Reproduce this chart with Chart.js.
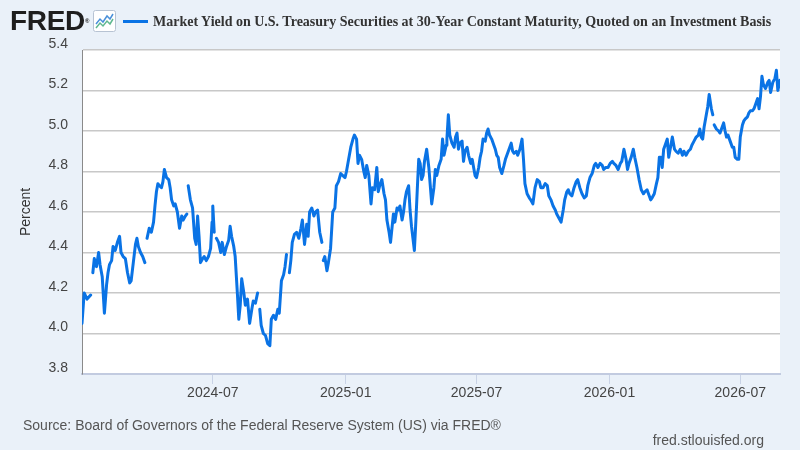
<!DOCTYPE html>
<html>
<head>
<meta charset="utf-8">
<script src="https://cdn.jsdelivr.net/npm/chart.js@4.4.1/dist/chart.umd.min.js"></script>
<style>
html,body{margin:0;padding:0;background:#eaf1f9;}
#wrap{position:relative;width:800px;height:450px;overflow:hidden;font-family:"Liberation Sans",Arial,sans-serif;}
#c{position:absolute;left:0;top:0;}
#logo{position:absolute;left:10px;top:7px;font:bold 28px/28px "Liberation Sans",Arial,sans-serif;color:#1e1e1e;letter-spacing:-0.3px;}
#logo sup{font-size:6px;vertical-align:bottom;letter-spacing:0;}
#icon{position:absolute;left:93px;top:10px;}
#legline{position:absolute;left:123px;top:20px;width:25px;height:3px;background:#0a73e5;}
#title{position:absolute;left:153px;top:14px;font:bold 14px/16px "Liberation Serif","Times New Roman",serif;color:#333;white-space:nowrap;}
#src{position:absolute;left:23px;top:417px;font:14px/16px "Liberation Sans",Arial,sans-serif;color:#555;white-space:nowrap;}
#site{position:absolute;right:36px;top:432px;font:14px/16px "Liberation Sans",Arial,sans-serif;color:#555;white-space:nowrap;}
</style>
</head>
<body>
<div id="wrap">
<canvas id="c" width="800" height="450"></canvas>
<div id="logo">FRED<sup>®</sup></div>
<svg id="icon" width="23" height="22" viewBox="0 0 23 22"><rect x="0.5" y="0.5" width="22" height="21" rx="2" fill="#fff" stroke="#b7c3d3"/><polyline points="3,14 7,9 10,12 14,6 17,9 20,4" fill="none" stroke="#4a90d9" stroke-width="1.5"/><polyline points="3,18 7,13 10,16 14,11 17,14 20,9" fill="none" stroke="#5fb88f" stroke-width="1.5"/></svg>
<div id="legline"></div>
<div id="title">Market Yield on U.S. Treasury Securities at 30-Year Constant Maturity, Quoted on an Investment Basis</div>
<div id="src">Source: Board of Governors of the Federal Reserve System (US) via FRED®</div>
<div id="site">fred.stlouisfed.org</div>
</div>
<script>
// ---- data (null = missing observation, line break) ----
const dates = [
'2024-01-02','2024-01-05','2024-01-09','2024-01-14','2024-01-16',
'2024-01-17','2024-01-19','2024-01-22','2024-01-25','2024-01-27','2024-01-30','2024-02-02','2024-02-05','2024-02-07','2024-02-09',
'2024-02-12','2024-02-14','2024-02-17','2024-02-20','2024-02-23','2024-02-25','2024-02-28','2024-03-02','2024-03-05','2024-03-08',
'2024-03-10','2024-03-13','2024-03-16','2024-03-18','2024-03-20','2024-03-23','2024-03-26','2024-03-29','2024-03-30',
'2024-04-01','2024-04-04','2024-04-07','2024-04-10','2024-04-12','2024-04-14','2024-04-16','2024-04-18','2024-04-21','2024-04-23',
'2024-04-25','2024-04-28','2024-05-01','2024-05-03','2024-05-05','2024-05-08','2024-05-10','2024-05-13','2024-05-16','2024-05-19',
'2024-05-21','2024-05-24','2024-05-26','2024-05-27',
'2024-05-28','2024-05-31','2024-06-03','2024-06-06','2024-06-08','2024-06-10','2024-06-12','2024-06-14','2024-06-17','2024-06-19',
'2024-06-22','2024-06-25','2024-06-28','2024-06-30','2024-07-01','2024-07-03','2024-07-05',
'2024-07-06','2024-07-09','2024-07-12','2024-07-14','2024-07-17','2024-07-20','2024-07-23','2024-07-25','2024-07-27','2024-07-30',
'2024-08-01','2024-08-04','2024-08-06','2024-08-08','2024-08-10','2024-08-13','2024-08-15','2024-08-18','2024-08-21','2024-08-24',
'2024-08-26','2024-08-29','2024-09-01','2024-09-02',
'2024-09-04','2024-09-06','2024-09-09','2024-09-12','2024-09-15','2024-09-18','2024-09-20','2024-09-23','2024-09-26','2024-09-29',
'2024-10-01','2024-10-04','2024-10-07','2024-10-09','2024-10-11','2024-10-13',
'2024-10-15','2024-10-17','2024-10-19','2024-10-22','2024-10-25','2024-10-28','2024-10-31','2024-11-02','2024-11-05','2024-11-08',
'2024-11-10','2024-11-12','2024-11-15','2024-11-18','2024-11-20','2024-11-23','2024-11-26','2024-11-29','2024-11-30',
'2024-12-01','2024-12-03','2024-12-06','2024-12-08','2024-12-11','2024-12-14','2024-12-17','2024-12-19','2024-12-22','2024-12-25',
'2024-12-28','2024-12-31','2025-01-02','2025-01-05','2025-01-08','2025-01-11','2025-01-13','2025-01-16','2025-01-18','2025-01-20',
'2025-01-23','2025-01-26','2025-01-28','2025-01-30','2025-02-02','2025-02-05','2025-02-07','2025-02-10','2025-02-13','2025-02-15',
'2025-02-17','2025-02-20','2025-02-23','2025-02-25','2025-02-27','2025-03-02','2025-03-04','2025-03-06','2025-03-08','2025-03-10',
'2025-03-13','2025-03-15','2025-03-17','2025-03-20','2025-03-22','2025-03-24','2025-03-26','2025-03-29','2025-03-31','2025-04-02',
'2025-04-04','2025-04-06','2025-04-08','2025-04-10','2025-04-12','2025-04-14','2025-04-16','2025-04-18','2025-04-20','2025-04-23',
'2025-04-26','2025-04-28','2025-04-30','2025-05-03','2025-05-05','2025-05-07','2025-05-10','2025-05-13','2025-05-15','2025-05-17',
'2025-05-20','2025-05-21','2025-05-23','2025-05-25','2025-05-28','2025-05-31','2025-06-02','2025-06-04','2025-06-06','2025-06-08',
'2025-06-11','2025-06-13','2025-06-15','2025-06-18','2025-06-20','2025-06-23','2025-06-25','2025-06-27','2025-06-29','2025-07-01',
'2025-07-04','2025-07-06','2025-07-08','2025-07-10','2025-07-13','2025-07-15','2025-07-17','2025-07-19','2025-07-22','2025-07-25',
'2025-07-27','2025-07-29','2025-07-31','2025-08-02','2025-08-05','2025-08-08','2025-08-10','2025-08-12','2025-08-15','2025-08-18',
'2025-08-20','2025-08-22','2025-08-25','2025-08-27','2025-08-30','2025-09-02','2025-09-04','2025-09-06','2025-09-09','2025-09-12',
'2025-09-14','2025-09-17','2025-09-20','2025-09-23','2025-09-26','2025-09-28','2025-10-01','2025-10-04','2025-10-07','2025-10-09',
'2025-10-12','2025-10-15','2025-10-18','2025-10-20','2025-10-23','2025-10-26','2025-10-29','2025-10-31','2025-11-03','2025-11-05',
'2025-11-07','2025-11-10','2025-11-13','2025-11-16','2025-11-18','2025-11-21','2025-11-24','2025-11-27','2025-11-30','2025-12-02',
'2025-12-05','2025-12-08','2025-12-11','2025-12-13','2025-12-16','2025-12-19','2025-12-22','2025-12-24','2025-12-27','2025-12-30',
'2026-01-02','2026-01-05','2026-01-07','2026-01-10','2026-01-13','2026-01-16','2026-01-18','2026-01-21','2026-01-24','2026-01-26',
'2026-01-28','2026-01-31','2026-02-03','2026-02-05','2026-02-08','2026-02-11','2026-02-14','2026-02-17','2026-02-19','2026-02-22',
'2026-02-25','2026-02-27','2026-03-01','2026-03-04','2026-03-07','2026-03-09','2026-03-11','2026-03-13','2026-03-15','2026-03-17',
'2026-03-19','2026-03-22','2026-03-24','2026-03-26','2026-03-29','2026-04-01','2026-04-03','2026-04-06','2026-04-09','2026-04-12',
'2026-04-14','2026-04-17','2026-04-20','2026-04-23','2026-04-25','2026-04-28','2026-05-01','2026-05-04','2026-05-06','2026-05-08',
'2026-05-10','2026-05-12','2026-05-15','2026-05-17','2026-05-19','2026-05-22','2026-05-24','2026-05-25',
'2026-05-26','2026-05-29','2026-06-01','2026-06-03','2026-06-06','2026-06-08','2026-06-10','2026-06-12','2026-06-14','2026-06-17',
'2026-06-20','2026-06-22','2026-06-24','2026-06-27','2026-06-29','2026-07-01','2026-07-04','2026-07-06','2026-07-08','2026-07-11',
'2026-07-13','2026-07-15','2026-07-18','2026-07-20','2026-07-22','2026-07-25','2026-07-27','2026-07-29','2026-07-31','2026-08-02',
'2026-08-05','2026-08-08','2026-08-10','2026-08-12','2026-08-15','2026-08-18','2026-08-20','2026-08-22','2026-08-25'
];
const yields = [
4.05,4.20,4.17,4.19,null,
4.30,4.37,4.33,4.40,4.34,4.28,4.10,4.24,4.30,4.34,
4.36,4.43,4.41,4.45,4.48,4.40,4.38,4.37,4.30,4.25,
4.26,4.35,4.44,4.47,4.43,4.40,4.38,4.35,null,
4.47,4.52,4.50,4.55,4.63,4.70,4.74,4.73,4.72,4.75,
4.81,4.77,4.76,4.72,4.66,4.63,4.64,4.60,4.52,4.58,
4.56,4.58,4.59,null,
4.73,4.66,4.62,4.47,4.44,4.58,4.48,4.35,4.37,4.38,
4.36,4.38,4.42,4.55,4.63,4.50,null,
4.47,4.45,4.40,4.45,4.39,4.43,4.46,4.53,4.48,4.43,
4.38,4.20,4.07,4.14,4.27,4.20,4.14,4.17,4.05,4.12,
4.16,4.15,4.20,null,
4.12,4.04,4.00,3.99,3.95,3.94,4.07,4.09,4.07,4.12,
4.10,4.26,4.29,4.33,4.39,null,
4.30,4.36,4.45,4.49,4.50,4.47,4.52,4.56,4.44,4.54,
4.48,4.60,4.62,4.58,4.60,4.61,4.50,4.45,null,
4.36,4.38,4.31,4.35,4.42,4.60,4.62,4.73,4.75,4.79,
4.78,4.77,4.80,4.86,4.92,4.96,4.98,4.96,4.84,4.88,
4.86,4.80,4.77,4.83,4.78,4.64,4.72,4.71,4.82,4.70,
4.73,4.76,4.69,4.66,4.56,4.50,4.45,4.52,4.59,4.55,
4.62,4.61,4.63,4.56,4.60,4.66,4.70,4.73,4.61,4.53,
4.47,4.41,4.55,4.71,4.86,4.84,4.76,4.78,4.85,4.91,
4.82,4.73,4.64,4.72,4.81,4.78,4.83,4.86,4.96,4.88,
4.93,4.96,5.08,4.98,4.94,4.92,4.97,4.99,4.91,4.94,
4.95,4.85,4.90,4.92,4.88,4.84,4.86,4.82,4.78,4.77,
4.82,4.87,4.90,4.96,4.95,4.99,5.01,4.98,4.96,4.93,
4.91,4.88,4.87,4.82,4.79,4.83,4.86,4.88,4.91,4.94,
4.90,4.89,4.90,4.88,4.91,4.96,4.86,4.74,4.69,4.67,
4.66,4.64,4.72,4.76,4.75,4.72,4.72,4.74,4.73,4.68,
4.66,4.63,4.61,4.59,4.57,4.55,4.61,4.66,4.70,4.71,
4.69,4.68,4.72,4.75,4.76,4.72,4.69,4.67,4.68,4.73,
4.77,4.79,4.83,4.84,4.82,4.84,4.83,4.81,4.82,4.82,
4.84,4.85,4.84,4.83,4.81,4.84,4.85,4.91,4.86,4.81,
4.84,4.87,4.91,4.87,4.82,4.76,4.71,4.69,4.70,4.71,
4.68,4.66,4.67,4.69,4.74,4.77,4.87,4.87,4.82,4.91,
4.93,4.96,4.87,4.91,4.97,4.91,4.90,4.89,4.91,4.88,
4.90,4.88,4.90,4.91,4.93,4.95,4.97,4.98,5.01,4.97,
4.96,5.02,5.08,5.12,5.18,5.11,5.08,null,
5.03,5.01,5.00,4.99,5.02,5.04,5.00,4.97,4.98,4.95,
4.92,4.92,4.87,4.86,4.86,4.97,5.03,5.05,5.06,5.07,
5.09,5.10,5.10,5.11,5.13,5.16,5.11,5.17,5.27,5.23,
5.21,5.24,5.25,5.19,5.24,5.26,5.30,5.20,5.25
];
const tickDates = ['2024-07-01','2025-01-01','2025-07-01','2026-01-01','2026-07-01'];
const tickLabels = ['2024-07','2025-01','2025-07','2026-01','2026-07'];
const yTickValues = [3.8,4.0,4.2,4.4,4.6,4.8,5.0,5.2,5.4];
const yMin = 3.8, yMax = 5.4;
const seriesName = 'Market Yield on U.S. Treasury Securities at 30-Year Constant Maturity, Quoted on an Investment Basis';

// ---- build ----
const DAY = 86400000;
const toDay = s => Date.parse(s + 'T00:00:00Z') / DAY;
const points = dates.map((d, i) => ({ x: toDay(d), y: yields[i] }));
const tickDays = tickDates.map(toDay);

const plotBg = {
  id: 'plotBg',
  beforeDraw(chart) {
    const { ctx, chartArea: a } = chart;
    ctx.save();
    ctx.fillStyle = '#ffffff';
    ctx.fillRect(a.left, a.top, a.right - a.left, a.bottom - a.top);
    ctx.restore();
  }
};

new Chart(document.getElementById('c'), {
  type: 'line',
  data: {
    datasets: [{
      label: seriesName,
      data: points,
      borderColor: '#0a73e5',
      borderWidth: 3,
      borderJoinStyle: 'round',
      borderCapStyle: 'round',
      pointRadius: 0,
      tension: 0,
      spanGaps: false,
      fill: false
    }]
  },
  options: {
    responsive: false,
    animation: false,
    devicePixelRatio: 1,
    layout: { padding: { top: 50, right: 20, left: 0, bottom: 0 } },
    plugins: { legend: { display: false }, tooltip: { enabled: false } },
    scales: {
      x: {
        type: 'linear',
        min: toDay(dates[0]),
        max: toDay(dates[dates.length - 1]),
        afterBuildTicks: s => { s.ticks = tickDays.map(v => ({ value: v })); },
        afterFit: s => { s.height = 76; },
        grid: { drawOnChartArea: false, drawTicks: true, tickLength: 10, color: '#c9d3e6', lineWidth: 1 },
        border: { display: true, color: '#c2cbe0', width: 2 },
        ticks: {
          autoSkip: false, maxRotation: 0, padding: 1,
          color: '#444', font: { family: '"Liberation Sans", Arial, sans-serif', size: 14 },
          callback: v => { const i = tickDays.indexOf(v); return i >= 0 ? tickLabels[i] : ''; }
        }
      },
      y: {
        min: yMin, max: yMax,
        afterBuildTicks: s => { s.ticks = yTickValues.map(v => ({ value: v })); },
        afterFit: s => { s.width = 82; },
        grid: { drawTicks: false, color: '#c8c8c8', lineWidth: 1.6 },
        border: { display: true, color: '#8a8a8a', width: 1 },
        ticks: {
          padding: 14, labelOffset: -6,
          color: '#444', font: { family: '"Liberation Sans", Arial, sans-serif', size: 14 },
          callback: v => v.toFixed(1)
        },
        title: {
          display: true, text: 'Percent', color: '#333',
          font: { family: '"Liberation Sans", Arial, sans-serif', size: 14 },
          padding: { top: 17.6, bottom: 0 }
        }
      }
    }
  },
  plugins: [plotBg]
});
</script>
</body>
</html>
